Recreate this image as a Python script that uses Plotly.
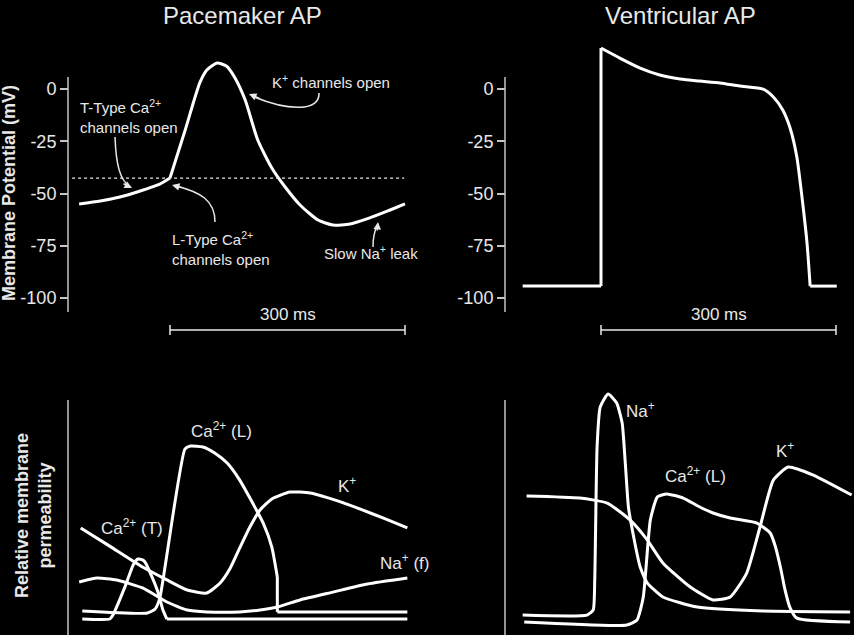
import plotly.graph_objects as go

# ---- data (time in ms, 0 = upstroke; voltage in mV) ----
pace_t = [-116, -89, -64, -38, -13, 0, 19, 38, 47, 60, 72, 83, 96, 112, 130, 147, 166, 189, 208, 230, 255, 281, 300]
pace_v = [-55.0, -53.6, -51.7, -48.8, -45.5, -42.6, -20.1, 2.9, 9.1, 12.4, 11.0, 5.3, -5.3, -24.4, -37.8,
          -46.9, -55.5, -62.7, -65.1, -64.6, -61.7, -57.9, -55.0]
threshold_mv = -42.6
threshold_t = [-125, 299]

vent_t = [-100, 0, 0, 24, 50, 75, 101, 126, 152, 177, 207, 220, 232, 241, 250, 257, 263, 267, 301]
vent_v = [-94.3, -94.3, 19.6, 14.8, 10.0, 6.7, 4.8, 3.8, 2.9, 1.4, -0.1, -3.8, -10.0, -18.2, -32.5, -53.1,
          -73.7, -94.3, -94.3]

mv_ticks = [-100, -75, -50, -25, 0]
scale_ms = 300

# relative permeability, pacemaker cell
caT_t = [-112, -77, -73, -57, -47, -41, -35, -32, -23, -15, -9, -4, 303]
caT_p = [0.026, 0.026, 0.043, 0.17, 0.261, 0.287, 0.283, 0.274, 0.209, 0.139, 0.065, 0.026, 0.026]
caL_t = [-112, -29, -19, -13, 19, 26, 42, 57, 73, 89, 102, 119, 130, 137, 137, 303]
caL_p = [0.061, 0.052, 0.070, 0.117, 0.765, 0.778, 0.774, 0.748, 0.704, 0.630, 0.552, 0.443, 0.339, 0.209,
         0.057, 0.057]
kP_t = [-114, -77, -35, -4, 22, 47, 64, 77, 89, 102, 115, 130, 153, 179, 211, 243, 275, 303]
kP_p = [0.422, 0.343, 0.252, 0.196, 0.152, 0.139, 0.183, 0.248, 0.335, 0.426, 0.5, 0.548, 0.578, 0.574,
        0.543, 0.504, 0.461, 0.422]
naf_t = [-116, -93, -68, -35, -4, 22, 47, 89, 115, 137, 166, 208, 252, 303]
naf_p = [0.187, 0.204, 0.196, 0.161, 0.1, 0.065, 0.057, 0.057, 0.065, 0.078, 0.109, 0.143, 0.178, 0.204]

# relative permeability, ventricular cell
na_t = [-100, -18, -10, -8, -5, -1, 9, 20, 27, 31, 35, 40, 50, 59, 79, 123, 207, 318]
na_p = [0.043, 0.043, 0.065, 0.196, 0.774, 0.948, 1.004, 0.965, 0.878, 0.704, 0.513, 0.413, 0.252, 0.183,
        0.122, 0.078, 0.061, 0.057]
caV_t = [-98, 33, 46, 54, 63, 72, 84, 105, 126, 143, 165, 199, 216, 222, 229, 235, 241, 250, 318]
caV_p = [0.013, 0.0, 0.022, 0.122, 0.457, 0.557, 0.57, 0.552, 0.513, 0.487, 0.465, 0.443, 0.4, 0.348, 0.252,
         0.152, 0.078, 0.03, 0.013]
kV_t = [-95, -27, 8, 37, 59, 79, 114, 143, 165, 186, 203, 220, 239, 271, 320]
kV_p = [0.561, 0.552, 0.530, 0.457, 0.37, 0.27, 0.165, 0.109, 0.122, 0.226, 0.426, 0.630, 0.687, 0.652, 0.565]

# ---- layout helpers (pixel geometry of the 854x635 canvas) ----
W, H = 854, 635
MS_PER_PX = 300 / 235.0
MV_PER_PX = 1 / 2.09
P_PER_PX = 1 / 230.0

FONT = "Liberation Sans, Arial, sans-serif"
TXT = "#e8e8e8"
AX = "#c4c4c4"


def xr(px0, px1, origin):
    return [(px0 - origin) * MS_PER_PX, (px1 - origin) * MS_PER_PX]


fig = go.Figure()


def add_curve(t, v, xa, ya, corners=(), smoothing=0.6):
    # split at sharp corners so the spline keeps them crisp
    cuts = [0] + sorted(corners) + [len(t) - 1]
    for a, b in zip(cuts[:-1], cuts[1:]):
        fig.add_trace(go.Scatter(x=t[a:b + 1], y=v[a:b + 1], mode="lines", xaxis=xa, yaxis=ya, hoverinfo="skip",
                                 line=dict(color="white", width=3, shape="spline", smoothing=smoothing)))


# top-left: pacemaker AP
add_curve(pace_t, pace_v, "x", "y", corners=[5])
fig.add_trace(go.Scatter(x=threshold_t, y=[threshold_mv] * 2, mode="lines", hoverinfo="skip",
                         line=dict(color=TXT, width=1.3, dash="dot"), xaxis="x", yaxis="y"))
# top-right: ventricular AP
add_curve(vent_t, vent_v, "x2", "y2", corners=[1, 2, 17])
# bottom-left
add_curve(caT_t, caT_p, "x3", "y3", corners=[11], smoothing=0.5)
add_curve(caL_t, caL_p, "x3", "y3", corners=[13, 14], smoothing=0.5)
add_curve(kP_t, kP_p, "x3", "y3", smoothing=0.5)
add_curve(naf_t, naf_p, "x3", "y3", smoothing=0.5)
# bottom-right
add_curve(na_t, na_p, "x4", "y4", smoothing=0.5)
add_curve(caV_t, caV_p, "x4", "y4", smoothing=0.5)
add_curve(kV_t, kV_p, "x4", "y4", smoothing=0.5)

left_dom = [55 / W, 430 / W]
right_dom = [490 / W, 854 / W]
left_rng = xr(55, 430, 170)
right_rng = xr(490, 854, 601)
top_dom = [1 - 345 / H, 1 - 30 / H]
top_rng = [(89 - 345) * MV_PER_PX, (89 - 30) * MV_PER_PX]
bot_dom = [0, 1 - 385 / H]
bot_rng = [(625 - 635) * P_PER_PX, (625 - 385) * P_PER_PX]

hidden_x = dict(visible=False, showgrid=False, zeroline=False, fixedrange=True)
mv_axis = dict(domain=top_dom, range=top_rng, anchor="free", tickvals=mv_ticks,
               ticktext=[str(v) for v in mv_ticks], ticks="outside", ticklen=8,
               tickwidth=1.5, tickcolor=AX, showgrid=False, zeroline=False, showline=False,
               tickfont=dict(family=FONT, size=18, color=TXT))
p_axis = dict(domain=bot_dom, range=bot_rng, visible=False, showgrid=False, zeroline=False)

fig.update_layout(
    width=W, height=H, margin=dict(l=0, r=0, t=0, b=0),
    paper_bgcolor="black", plot_bgcolor="black", showlegend=False,
    font=dict(family=FONT, color=TXT),
    xaxis=dict(domain=left_dom, range=left_rng, **hidden_x),
    xaxis2=dict(domain=right_dom, range=right_rng, **hidden_x),
    xaxis3=dict(domain=left_dom, range=left_rng, **hidden_x),
    xaxis4=dict(domain=right_dom, range=right_rng, **hidden_x),
    yaxis=dict(position=68 / W, **mv_axis),
    yaxis2=dict(position=505 / W, **mv_axis),
    yaxis3=dict(anchor="x3", **p_axis),
    yaxis4=dict(anchor="x4", **p_axis),
)

shapes = []
# axis lines
ax_top = [(89 - 77) * MV_PER_PX, (89 - 312) * MV_PER_PX]
ax_bot = [(625 - 400) * P_PER_PX, bot_rng[0]]
for xa, ya, x0, yy in [("x", "y", (68 - 170) * MS_PER_PX, ax_top), ("x2", "y2", (505 - 601) * MS_PER_PX, ax_top),
                       ("x3", "y3", (68 - 170) * MS_PER_PX, ax_bot), ("x4", "y4", (505 - 601) * MS_PER_PX, ax_bot)]:
    shapes.append(dict(type="line", xref=xa, yref=ya, x0=x0, x1=x0, y0=yy[0], y1=yy[1],
                       line=dict(color=AX, width=1.5)))
# 300 ms scale bars
bar_y = (89 - 330) * MV_PER_PX
cap = 5 * MV_PER_PX
for xa, ya in [("x", "y"), ("x2", "y2")]:
    shapes.append(dict(type="line", xref=xa, yref=ya, x0=0, x1=scale_ms, y0=bar_y, y1=bar_y,
                       line=dict(color=TXT, width=1.5)))
    for xe in (0, scale_ms):
        shapes.append(dict(type="line", xref=xa, yref=ya, x0=xe, x1=xe, y0=bar_y - cap, y1=bar_y + cap,
                           line=dict(color=TXT, width=1.5)))


# curved arrow stems (pixel points converted to data units of the pacemaker panel)
def pt(px, py):
    return "%.2f,%.2f" % ((px - 170) * MS_PER_PX, (89 - py) * MV_PER_PX)


stems = [
    [(319, 93), (320, 111), (290, 112), (252, 96)],
    [(115, 137), (116, 165), (120, 180), (130, 187)],
    [(215, 222), (215, 200), (200, 192), (176, 186)],
    [(373, 247), (373, 238), (375, 230), (377, 226)],
]
for s in stems:
    path = "M%s C%s %s %s" % tuple(pt(*p) for p in s)
    shapes.append(dict(type="path", xref="x", yref="y", path=path, line=dict(color=TXT, width=1.5)))
fig.update_layout(shapes=shapes)

ann = []


def text(x, y, s, size=17, xref="paper", yref="paper", xanchor="center", yanchor="middle", **kw):
    ann.append(dict(x=x, y=y, xref=xref, yref=yref, text=s, showarrow=False, xanchor=xanchor,
                    yanchor=yanchor, font=dict(family=FONT, size=size, color=TXT), **kw))


text(243 / W, 1, "Pacemaker AP", size=24, yanchor="top")
text(680 / W, 1, "Ventricular AP", size=24, yanchor="top")
text(9 / W, 1 - 193 / H, "<b>Membrane Potential (mV)</b>", size=18, textangle=-90)
text(33 / W, 1 - 516 / H, "<b>Relative membrane<br>permeability</b>", size=18, textangle=-90)
lbl_y = (89 - 314) * MV_PER_PX
text(scale_ms / 2, lbl_y, "300 ms", xref="x", yref="y")
text(scale_ms / 2, lbl_y, "300 ms", xref="x2", yref="y2")

# pacemaker annotations
text(331 / W, 1 - 82 / H, "K<sup>+</sup> channels open", size=15)
text(78 / W, 1 - 117 / H, "T-Type Ca<sup>2+</sup><br>channels open", size=15, xanchor="left", align="left")
text(170 / W, 1 - 249 / H, "L-Type Ca<sup>2+</sup><br>channels open", size=15, xanchor="left", align="left")
text(371 / W, 1 - 252 / H, "Slow Na<sup>+</sup> leak", size=15)
for tip, (ax, ay) in [((249, 94), (12, 5)), ((132, 188), (-10, -5)), ((172, 185), (11, 3)), ((378, 222), (-1, 10))]:
    ann.append(dict(x=(tip[0] - 170) * MS_PER_PX, y=(89 - tip[1]) * MV_PER_PX, xref="x", yref="y", text="",
                    showarrow=True, arrowhead=2, arrowsize=1, arrowwidth=1.5, arrowcolor=TXT, ax=ax, ay=ay))

# permeability labels
text(66, 0.848, "Ca<sup>2+</sup> (L)", xref="x3", yref="y3")
text(226, 0.609, "K<sup>+</sup>", xref="x3", yref="y3")
text(-48, 0.426, "Ca<sup>2+</sup> (T)", xref="x3", yref="y3")
text(299, 0.274, "Na<sup>+</sup> (f)", xref="x3", yref="y3")
text(50, 0.935, "Na<sup>+</sup>", xref="x4", yref="y4")
text(235, 0.761, "K<sup>+</sup>", xref="x4", yref="y4")
text(120, 0.652, "Ca<sup>2+</sup> (L)", xref="x4", yref="y4")

fig.update_layout(annotations=ann)
# drop the default 8px page margin so the canvas sits at the window corner
fig.write_html("out.html", config={"displayModeBar": False},
               post_script="document.body.style.margin='0px';")
